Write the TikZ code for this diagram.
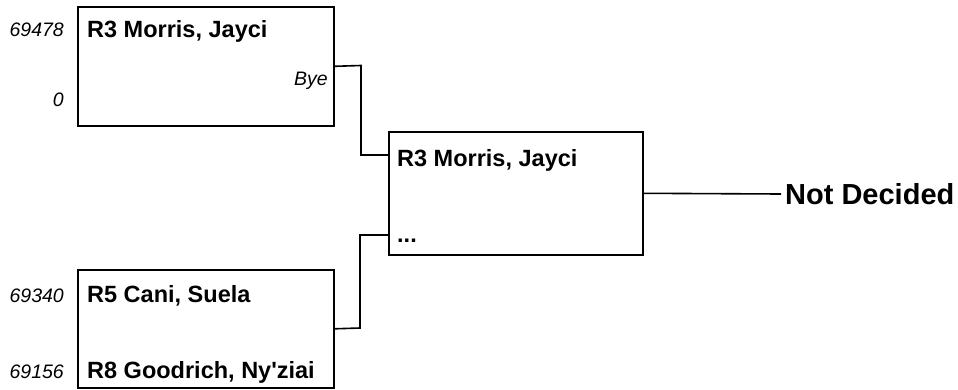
\documentclass[tikz,border=0pt]{standalone}
\usepackage{fontspec}
\setmainfont{Liberation Sans}
\begin{document}
\begin{tikzpicture}[x=1pt,y=-1pt,
  box/.style={draw,line width=1.6pt,rectangle,inner sep=0pt,anchor=north west},
  pname/.style={font=\fontsize{23.5}{27}\selectfont\bfseries,anchor=base west,inner sep=0pt},
  seed/.style={font=\fontsize{19.5}{22}\selectfont\itshape,anchor=base east,inner sep=0pt},
  conn/.style={line width=1.6pt}]
\useasboundingbox (0,0) rectangle (958,389);
% boxes
\node[box,minimum width=256pt,minimum height=119pt] (b1) at (77,6) {};
\node[box,minimum width=256pt,minimum height=118pt] (b2) at (77,269) {};
\node[box,minimum width=254pt,minimum height=123pt] (b3) at (388,131) {};
% texts
\node[pname] (t1) at (87,37) {R3 Morris, Jayci};
\node[seed] (s1) at (64,36) {69478};
\node[seed] (s0) at (64,106) {0};
\node[seed] (bye) at (328,85) {Bye};
\node[pname] (t2) at (87,302) {R5 Cani, Suela};
\node[seed] (s2) at (64,302) {69340};
\node[pname] (t3) at (87,378) {R8 Goodrich, Ny\textquotesingle ziai};
\node[seed] (s3) at (64,378) {69156};
\node[pname] (t4) at (397,166) {R3 Morris, Jayci};
\node[pname] (t5) at (397,242) {...};
\node[font=\fontsize{29}{33}\selectfont\bfseries,anchor=west,inner sep=0pt] (nd) at (785,194) {Not Decided};
% connectors
\coordinate (in1) at (388,155);
\coordinate (in2) at (388,235);
\draw[conn] (b1.east) -- (361,65.5) |- (in1);
\draw[conn] (b2.east) -- (360,328) |- (in2);
\draw[conn] (b3.east) -- ([xshift=-4pt]nd.west);
\end{tikzpicture}
\end{document}
